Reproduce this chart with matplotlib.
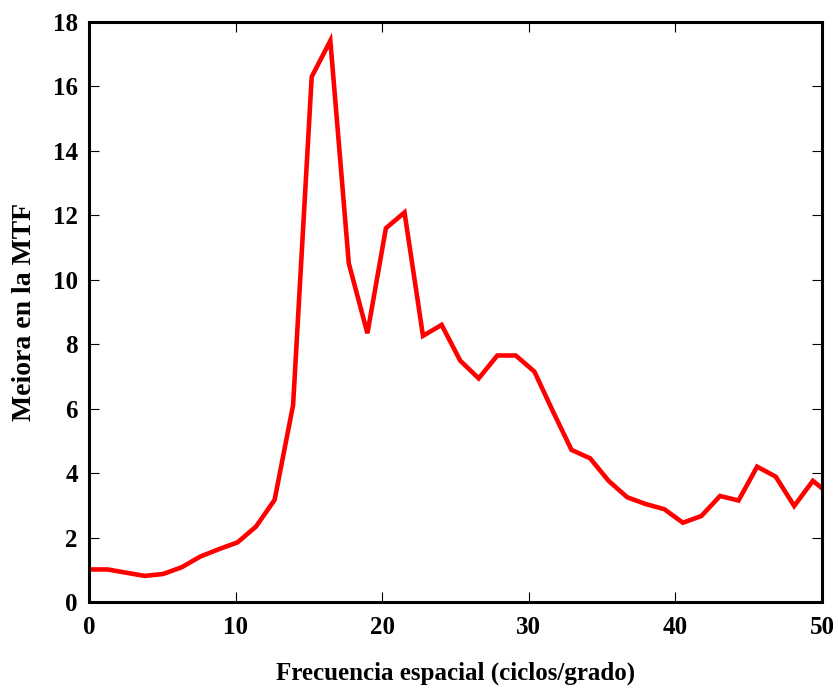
import matplotlib
matplotlib.use("Agg")
import matplotlib.pyplot as plt

# Spatial frequency samples (cycles/degree) and MTF improvement factor
frecuencia = [0.00, 1.27, 2.53, 3.80, 5.06, 6.33, 7.59, 8.86, 10.13, 11.39,
              12.66, 13.92, 15.19, 16.46, 17.72, 18.99, 20.25, 21.52, 22.78, 24.05,
              25.32, 26.58, 27.85, 29.11, 30.38, 31.65, 32.91, 34.18, 35.44, 36.71,
              37.97, 39.24, 40.51, 41.77, 43.04, 44.30, 45.57, 46.84, 48.10, 49.37,
              50.63]
mejora = [1.01, 1.01, 0.91, 0.81, 0.87, 1.08, 1.41, 1.64, 1.85, 2.34,
          3.17, 6.11, 16.30, 17.42, 10.51, 8.34, 11.60, 12.09, 8.26, 8.60,
          7.49, 6.94, 7.65, 7.65, 7.15, 5.91, 4.72, 4.46, 3.76, 3.25,
          3.04, 2.88, 2.46, 2.67, 3.29, 3.15, 4.20, 3.89, 2.98, 3.76,
          3.30]

x_ticks = [0, 10, 20, 30, 40, 50]
y_ticks = [0, 2, 4, 6, 8, 10, 12, 14, 16, 18]

plt.rcParams['font.family'] = ['Liberation Serif', 'DejaVu Serif']
plt.rcParams['font.weight'] = 'bold'

fig = plt.figure(figsize=(8.38, 6.88), dpi=100)
ax = fig.add_axes([0.1062, 0.125, 0.981 - 0.1062, 0.968 - 0.125])

ax.plot(frecuencia, mejora, color='#ff0000', linewidth=3.3, solid_joinstyle='miter')
ax.set_xlim(0, 50)
ax.set_ylim(0, 18)
ax.set_xticks(x_ticks)
ax.set_yticks(y_ticks)

for s in ax.spines.values():
    s.set_linewidth(2.2)
ax.tick_params(direction='in', length=7, width=0.8, top=True, right=True,
               labelsize=18)
ax.tick_params(axis='x', pad=10)
ax.tick_params(axis='y', pad=8)
for lab in ax.get_xticklabels() + ax.get_yticklabels():
    lab.set_fontweight('bold')

ax.set_xlabel('Frecuencia espacial (ciclos/grado)', fontsize=18, fontweight='bold', labelpad=16)
ax.set_ylabel('Meiora en la MTF', fontsize=20, fontweight='bold', labelpad=11)

fig.savefig('out.png', dpi=100)
